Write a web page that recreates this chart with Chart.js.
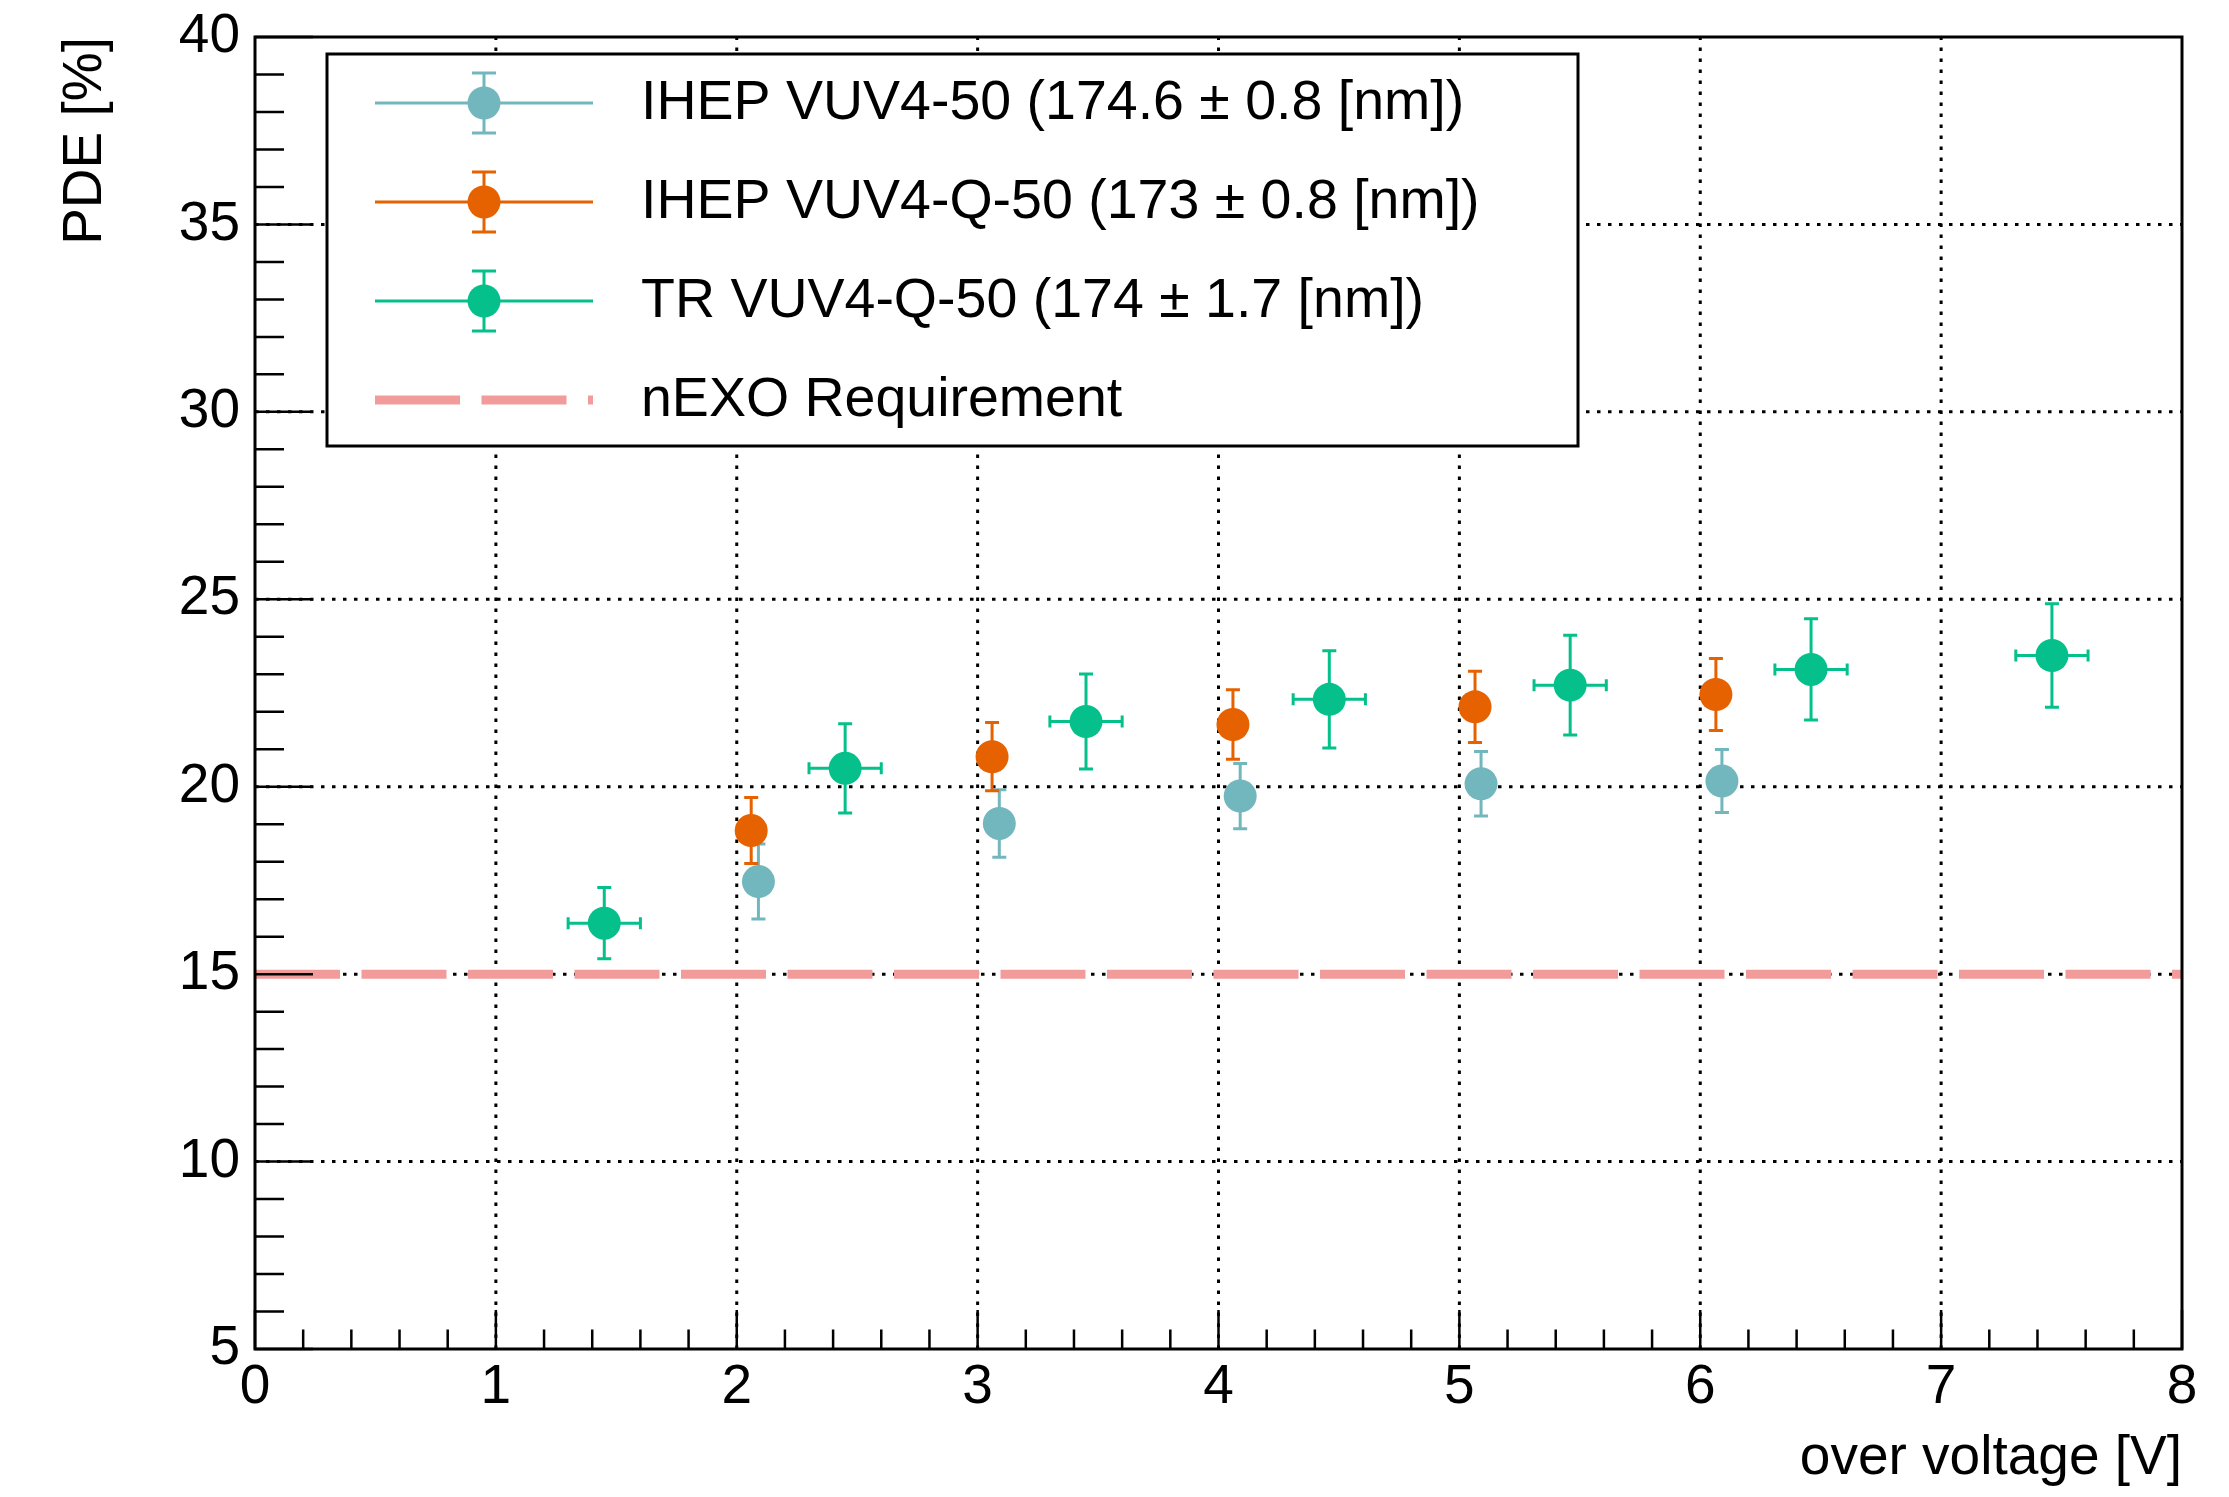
<!DOCTYPE html>
<html>
<head>
<meta charset="utf-8">
<title>PDE vs over voltage</title>
<script src="https://cdn.jsdelivr.net/npm/chart.js@4.4.1/dist/chart.umd.min.js"></script>
<style>
  html, body { margin: 0; padding: 0; background: #fff; }
  #wrap { width: 2229px; height: 1497px; }
</style>
</head>
<body>
<div id="wrap"><canvas id="pde" width="2229" height="1497"></canvas></div>
<script>
// values (x: over voltage [V], y: PDE [%])
const ihepVoltage = [2.09, 3.09, 4.09, 5.09, 6.09];
const ihepPde = [17.47, 19.02, 19.75, 20.08, 20.15];
const ihepErr = [1.0, 0.9, 0.87, 0.86, 0.84];

const ihepQVoltage = [2.06, 3.06, 4.06, 5.065, 6.065];
const ihepQPde = [18.83, 20.8, 21.66, 22.13, 22.46];
const ihepQErr = [0.88, 0.91, 0.93, 0.95, 0.96];

const trVoltage = [1.45, 2.45, 3.45, 4.46, 5.46, 6.46, 7.46];
const trPde = [16.36, 20.49, 21.74, 22.33, 22.71, 23.13, 23.5];
const trErr = [0.95, 1.19, 1.27, 1.3, 1.33, 1.35, 1.38];
const trVoltageErr = [0.15, 0.15, 0.15, 0.15, 0.15, 0.15, 0.15];

const requirementPde = 15;

const xTickValues = [0, 1, 2, 3, 4, 5, 6, 7, 8];
const yTickValues = [5, 10, 15, 20, 25, 30, 35, 40];

const FONT = '"Liberation Sans", Arial, Helvetica, sans-serif';
const CYAN = '#72b7bd';
const ORANGE = '#e66100';
const GREEN = '#05c08a';
const PINK = '#f29b9b';

function toPoints(xs, ys) {
    return xs.map((x, i) => ({ x: x, y: ys[i] }));
}

// grid, error bars, frame and inward ticks, ROOT style
const rootFrame = {
    id: 'rootFrame',
    beforeDatasetsDraw(chart) {
        const { ctx, chartArea: a, scales: { x, y } } = chart;
        ctx.save();
        ctx.strokeStyle = '#000';
        ctx.lineWidth = 3;
        ctx.setLineDash([3.5, 7.5]);
        xTickValues.forEach(v => {
            if (v <= x.min || v >= x.max) return;
            const px = x.getPixelForValue(v);
            ctx.beginPath();
            ctx.moveTo(px, a.bottom);
            ctx.lineTo(px, a.top);
            ctx.stroke();
        });
        yTickValues.forEach(v => {
            if (v <= y.min || v >= y.max) return;
            const py = y.getPixelForValue(v);
            ctx.beginPath();
            ctx.moveTo(a.left, py);
            ctx.lineTo(a.right, py);
            ctx.stroke();
        });
        ctx.setLineDash([]);

        // error bars under the markers
        chart.data.datasets.forEach(ds => {
            if (!ds.yErr) return;
            ctx.strokeStyle = ds.backgroundColor;
            ctx.lineWidth = 3;
            ds.data.forEach((pt, i) => {
                const px = x.getPixelForValue(pt.x);
                const py = y.getPixelForValue(pt.y);
                const top = y.getPixelForValue(pt.y + ds.yErr[i]);
                const bot = y.getPixelForValue(pt.y - ds.yErr[i]);
                ctx.beginPath();
                ctx.moveTo(px, top); ctx.lineTo(px, bot);
                ctx.moveTo(px - 7, top); ctx.lineTo(px + 7, top);
                ctx.moveTo(px - 7, bot); ctx.lineTo(px + 7, bot);
                if (ds.xErr) {
                    const l = x.getPixelForValue(pt.x - ds.xErr[i]);
                    const r = x.getPixelForValue(pt.x + ds.xErr[i]);
                    ctx.moveTo(l, py); ctx.lineTo(r, py);
                    ctx.moveTo(l, py - 6); ctx.lineTo(l, py + 6);
                    ctx.moveTo(r, py - 6); ctx.lineTo(r, py + 6);
                }
                ctx.stroke();
            });
        });
        ctx.restore();
    },
    afterDatasetsDraw(chart) {
        const { ctx, chartArea: a, scales: { x, y } } = chart;
        ctx.save();
        ctx.strokeStyle = '#000';
        ctx.lineWidth = 2.5;
        ctx.beginPath();
        for (let k = 0; k <= 40; k++) {
            const px = x.getPixelForValue(k * 0.2);
            const len = k % 5 === 0 ? 39 : 19.5;
            ctx.moveTo(px, a.bottom);
            ctx.lineTo(px, a.bottom - len);
        }
        for (let v = 5; v <= 40; v++) {
            const py = y.getPixelForValue(v);
            const len = v % 5 === 0 ? 58 : 29;
            ctx.moveTo(a.left, py);
            ctx.lineTo(a.left + len, py);
        }
        ctx.stroke();
        ctx.lineWidth = 3;
        ctx.strokeRect(a.left, a.top, a.right - a.left, a.bottom - a.top);
        ctx.restore();
    }
};

const rootLegend = {
    id: 'rootLegend',
    afterDraw(chart) {
        const ctx = chart.ctx;
        const box = { left: 327, top: 54, right: 1578, bottom: 446 };
        ctx.save();
        ctx.fillStyle = '#fff';
        ctx.fillRect(box.left, box.top, box.right - box.left, box.bottom - box.top);
        ctx.strokeStyle = '#000';
        ctx.lineWidth = 3;
        ctx.strokeRect(box.left, box.top, box.right - box.left, box.bottom - box.top);

        chart.data.datasets.forEach((ds, i) => {
            const cy = 103 + i * 99;
            const x0 = 375, x1 = 593, cx = 484;
            if (ds.yErr) {
                ctx.strokeStyle = ds.backgroundColor;
                ctx.lineWidth = 3;
                ctx.beginPath();
                ctx.moveTo(x0, cy); ctx.lineTo(x1, cy);
                ctx.moveTo(cx, cy - 30); ctx.lineTo(cx, cy + 30);
                ctx.moveTo(cx - 12, cy - 30); ctx.lineTo(cx + 12, cy - 30);
                ctx.moveTo(cx - 12, cy + 30); ctx.lineTo(cx + 12, cy + 30);
                ctx.stroke();
                ctx.fillStyle = ds.backgroundColor;
                ctx.beginPath();
                ctx.arc(cx, cy, 16.5, 0, Math.PI * 2);
                ctx.fill();
            } else {
                ctx.strokeStyle = ds.borderColor;
                ctx.lineWidth = 9;
                ctx.setLineDash(ds.borderDash);
                ctx.beginPath();
                ctx.moveTo(x0, cy); ctx.lineTo(x1, cy);
                ctx.stroke();
                ctx.setLineDash([]);
            }
            ctx.fillStyle = '#000';
            ctx.font = '55.5px ' + FONT;
            ctx.textAlign = 'left';
            ctx.textBaseline = 'middle';
            ctx.fillText(ds.label, 641, cy + 1);
        });
        ctx.restore();
    }
};

const tickFont = { family: FONT, size: 55 };

new Chart(document.getElementById('pde'), {
    type: 'scatter',
    data: {
        datasets: [
            {
                label: 'IHEP VUV4-50 (174.6 ± 0.8 [nm])',
                data: toPoints(ihepVoltage, ihepPde),
                yErr: ihepErr,
                backgroundColor: CYAN,
                borderColor: CYAN,
                pointRadius: 16.5,
                pointBorderWidth: 0,
                order: 1
            },
            {
                label: 'IHEP VUV4-Q-50 (173 ± 0.8 [nm])',
                data: toPoints(ihepQVoltage, ihepQPde),
                yErr: ihepQErr,
                backgroundColor: ORANGE,
                borderColor: ORANGE,
                pointRadius: 16.5,
                pointBorderWidth: 0,
                order: 1
            },
            {
                label: 'TR VUV4-Q-50 (174 ± 1.7 [nm])',
                data: toPoints(trVoltage, trPde),
                yErr: trErr,
                xErr: trVoltageErr,
                backgroundColor: GREEN,
                borderColor: GREEN,
                pointRadius: 16.5,
                pointBorderWidth: 0,
                order: 1
            },
            {
                type: 'line',
                label: 'nEXO Requirement',
                data: [{ x: xTickValues[0], y: requirementPde }, { x: xTickValues[xTickValues.length - 1], y: requirementPde }],
                borderColor: PINK,
                backgroundColor: PINK,
                borderWidth: 9,
                borderDash: [85, 21.5],
                pointRadius: 0,
                fill: false,
                order: 5
            }
        ]
    },
    options: {
        responsive: false,
        animation: false,
        devicePixelRatio: 1,
        events: [],
        layout: { padding: { top: 37, right: 47, bottom: 0, left: 0 } },
        plugins: {
            legend: { display: false },
            tooltip: { enabled: false }
        },
        scales: {
            x: {
                type: 'linear',
                min: 0,
                max: 8,
                afterFit: s => {
                    s.height = 148;
                    s.paddingLeft = 0;
                    s.paddingRight = 0;
                },
                afterBuildTicks: s => { s.ticks = xTickValues.map(v => ({ value: v })); },
                grid: { display: false, drawTicks: false },
                border: { display: false },
                ticks: { font: tickFont, color: '#000', padding: 6, maxRotation: 0, autoSkip: false },
                title: {
                    display: true,
                    text: 'over voltage [V]',
                    align: 'end',
                    color: '#000',
                    font: tickFont,
                    padding: { top: 0, bottom: 5 }
                }
            },
            y: {
                type: 'linear',
                min: 5,
                max: 40,
                afterFit: s => {
                    s.width = 255;
                    s.paddingTop = 0;
                    s.paddingBottom = 0;
                },
                afterBuildTicks: s => { s.ticks = yTickValues.map(v => ({ value: v })); },
                grid: { display: false, drawTicks: false },
                border: { display: false },
                ticks: { font: tickFont, color: '#000', padding: 15, autoSkip: false },
                title: {
                    display: true,
                    text: 'PDE [%]',
                    align: 'end',
                    color: '#000',
                    font: tickFont,
                    padding: { top: 53, bottom: 0 }
                }
            }
        }
    },
    plugins: [rootFrame, rootLegend]
});
</script>
</body>
</html>
